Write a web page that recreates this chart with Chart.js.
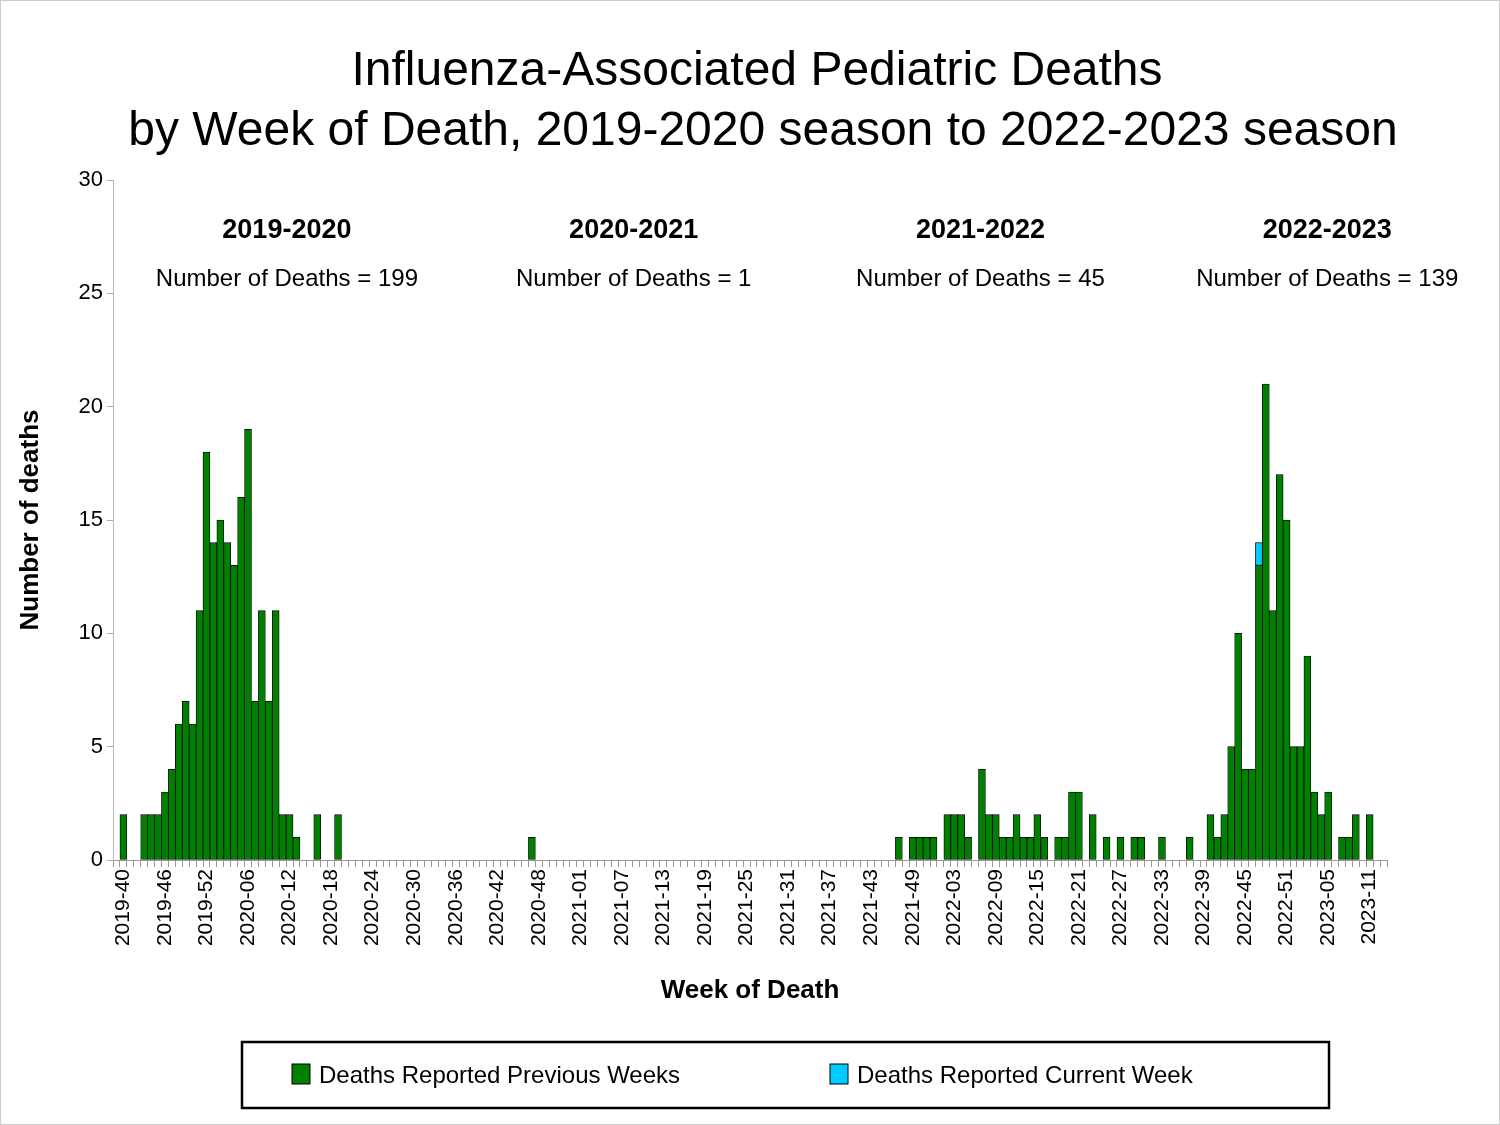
<!DOCTYPE html>
<html><head><meta charset="utf-8">
<script src="https://cdn.jsdelivr.net/npm/chart.js@4"></script>
<style>html,body{margin:0;padding:0;background:#fff}#w{width:1500px;height:1125px;position:relative;box-sizing:border-box;border:1px solid #ccc}canvas{display:block}</style>
</head><body><div id="w"><canvas id="c" width="1498" height="1123"></canvas></div>
<script>
// Categories: MMWR weeks 2019-39 .. 2023-13
const yearWeeks = [[2019,39,52],[2020,1,53],[2021,1,52],[2022,1,52],[2023,1,13]];
const weeks = [];
yearWeeks.forEach(([y,a,b])=>{for(let w=a;w<=b;w++) weeks.push(y+'-'+String(w).padStart(2,'0'));});

// Deaths reported previous weeks (only non-zero weeks listed)
const prevWeeks = ['2019-40','2019-43','2019-44','2019-45','2019-46','2019-47','2019-48','2019-49','2019-50','2019-51','2019-52',
 '2020-01','2020-02','2020-03','2020-04','2020-05','2020-06','2020-07','2020-08','2020-09','2020-10','2020-11','2020-12','2020-13','2020-16','2020-19',
 '2020-47',
 '2021-47','2021-49','2021-50','2021-51','2021-52','2022-02','2022-03','2022-04','2022-05','2022-07','2022-08','2022-09','2022-10','2022-11','2022-12','2022-13','2022-14','2022-15','2022-16','2022-18','2022-19','2022-20','2022-21','2022-23','2022-25','2022-27','2022-29','2022-30','2022-33','2022-37',
 '2022-40','2022-41','2022-42','2022-43','2022-44','2022-45','2022-46','2022-47','2022-48','2022-49','2022-50','2022-51','2022-52','2023-01','2023-02','2023-03','2023-04','2023-05','2023-07','2023-08','2023-09','2023-11'];
const prevValues = [2,2,2,2,3,4,6,7,6,11,18,
 14,15,14,13,16,19,7,11,7,11,2,2,1,2,2,
 1,
 1,1,1,1,1,2,2,2,1,4,2,2,1,1,2,1,1,2,1,1,1,3,3,2,1,1,1,1,1,1,
 2,1,2,5,10,4,4,13,21,11,17,15,5,5,9,3,2,3,1,1,2,2];
// Deaths reported current week
const currWeeks = ['2022-47'];
const currValues = [1];

const seasons = ['2019-2020','2020-2021','2021-2022','2022-2023'];
const seasonDeaths = [199,1,45,139];
const yTicks = [0,5,10,15,20,25,30];

const prevData = weeks.map(w=>{const i=prevWeeks.indexOf(w);return i<0?0:prevValues[i];});
const currData = weeks.map(w=>{const i=currWeeks.indexOf(w);return i<0?0:currValues[i];});

const FONT = '"Liberation Sans", Arial, sans-serif';
const GREEN = '#008000', CYAN = '#00CCFF';

const deco = {
  id:'deco',
  afterDraw(chart){
    const ctx = chart.ctx, ca = chart.chartArea;
    ctx.save();
    ctx.fillStyle = '#000';
    ctx.textAlign = 'center'; ctx.textBaseline = 'middle';
    ctx.font = '48px '+FONT;
    ctx.fillText('Influenza-Associated Pediatric Deaths', 756, 71);
    ctx.fillText('by Week of Death, 2019-2020 season to 2022-2023 season', 762, 131);
    const w = ca.right - ca.left;
    seasons.forEach((s,i)=>{
      const x = ca.left + w*(0.1365 + i*0.2722);
      ctx.font = 'bold 27px '+FONT;
      ctx.fillText(s, x, 230);
      ctx.font = '24px '+FONT;
      ctx.fillText('Number of Deaths = '+seasonDeaths[i], x, 278);
    });
    // legend
    ctx.strokeStyle = '#000'; ctx.lineWidth = 2.5;
    ctx.strokeRect(241, 1041, 1087, 66);
    ctx.font = '24px '+FONT; ctx.textAlign='left';
    [[GREEN,'Deaths Reported Previous Weeks',291],[CYAN,'Deaths Reported Current Week',829]].forEach(([c,t,x])=>{
      ctx.fillStyle=c; ctx.fillRect(x,1063,18,20);
      ctx.strokeStyle='#000'; ctx.lineWidth=1; ctx.strokeRect(x,1063,18,20);
      ctx.fillStyle='#000'; ctx.fillText(t, x+27, 1075);
    });
    ctx.restore();
  }
};

new Chart(document.getElementById('c'), {
  type:'bar',
  data:{labels:weeks, datasets:[
    {label:'Deaths Reported Previous Weeks', data:prevData, backgroundColor:GREEN, borderColor:'#000', borderWidth:0.8, borderSkipped:false, categoryPercentage:1, barPercentage:1},
    {label:'Deaths Reported Current Week', data:currData, backgroundColor:CYAN, borderColor:'#000', borderWidth:0.8, borderSkipped:false, categoryPercentage:1, barPercentage:1}
  ]},
  options:{
    responsive:false, animation:false, devicePixelRatio:1,
    layout:{padding:{left:10, top:179, right:112, bottom:114}},
    plugins:{legend:{display:false}, title:{display:false}, tooltip:{enabled:false}},
    scales:{
      x:{stacked:true, offset:true,
        grid:{display:true, drawOnChartArea:false, tickLength:7, color:'#999', offset:true},
        border:{color:'#999'},
        ticks:{autoSkip:false, maxRotation:90, minRotation:90, color:'#000', font:{family:FONT,size:21}, padding:2,
          callback:(v,i)=> (i-1)%6===0 ? weeks[i] : ''},
        title:{display:true, text:'Week of Death', color:'#000', font:{family:FONT,size:26,weight:'bold'}, padding:{top:2}},
        afterFit:(s)=>{s.height=150;}
      },
      y:{stacked:true, min:0, max:30,
        afterBuildTicks:(s)=>{s.ticks = yTicks.map(v=>({value:v}));},
        grid:{display:true, drawOnChartArea:false, tickLength:6, color:'#aaa'},
        border:{color:'#bbb'},
        ticks:{color:'#000', font:{family:FONT,size:22}, padding:4},
        title:{display:true, text:'Number of deaths', color:'#000', font:{family:FONT,size:26,weight:'bold'}, padding:{bottom:14}},
        afterFit:(s)=>{s.width=102;}
      }
    }
  },
  plugins:[deco]
});
</script></body></html>
